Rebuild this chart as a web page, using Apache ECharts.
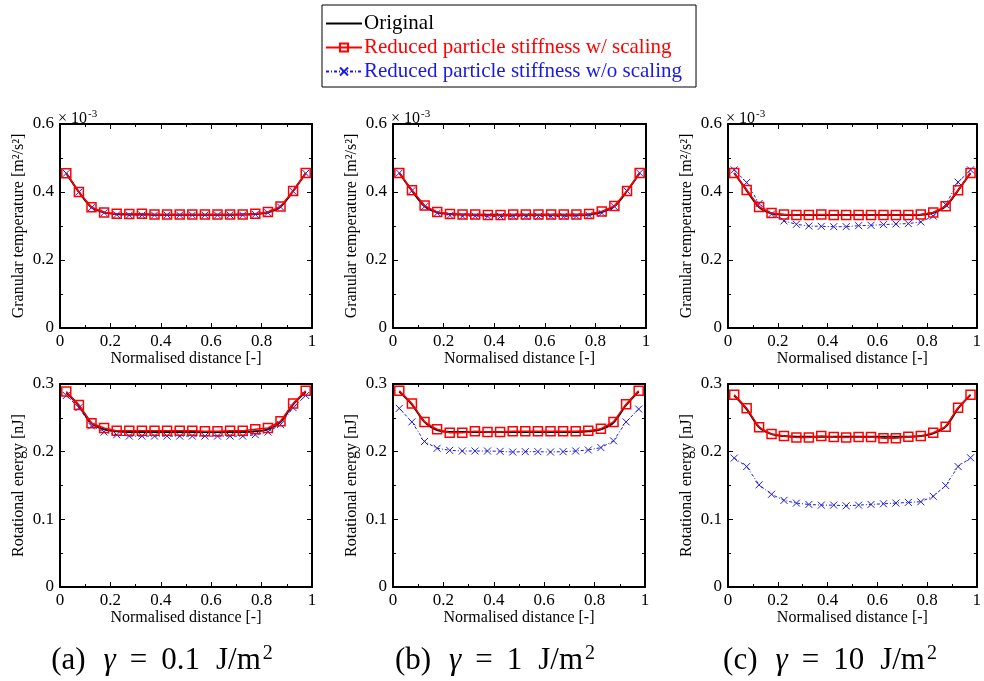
<!DOCTYPE html>
<html>
<head>
<meta charset="utf-8">
<script src="https://cdn.jsdelivr.net/npm/echarts@6/dist/echarts.min.js"></script>
<style>html,body{margin:0;padding:0;background:#fff;}#c{width:984px;height:681px;}</style>
</head>
<body>
<div id="c"></div>
<script>
// ---------- DATA ----------
const xPos = [0.025,0.075,0.125,0.175,0.225,0.275,0.325,0.375,0.425,0.475,0.525,0.575,0.625,0.675,0.725,0.775,0.825,0.875,0.925,0.975];
const seriesNames = ['Original','Reduced particle stiffness w/ scaling','Reduced particle stiffness w/o scaling'];
const captions = ['(a)', '(b)', '(c)'];
const captionValues = ['0.1', '1', '10'];
const xTicks = [0,0.2,0.4,0.6,0.8,1];
const tempTicks = [0,0.2,0.4,0.6];
const rotTicks = [0,0.1,0.2,0.3];

// Granular temperature (x 1e-3 m^2/s^2)
const tempOrigA    = [0.455,0.400,0.355,0.340,0.335,0.334,0.334,0.333,0.333,0.333,0.333,0.333,0.333,0.333,0.334,0.335,0.340,0.357,0.403,0.455];
const tempScaledA  = [0.455,0.400,0.355,0.340,0.336,0.335,0.336,0.334,0.334,0.334,0.334,0.334,0.334,0.334,0.334,0.336,0.341,0.357,0.403,0.456];
const tempNoScaleA = [0.455,0.400,0.354,0.339,0.333,0.332,0.332,0.332,0.332,0.332,0.332,0.332,0.332,0.332,0.332,0.334,0.339,0.356,0.402,0.455];

const tempOrigB    = [0.456,0.404,0.358,0.340,0.335,0.334,0.333,0.333,0.333,0.333,0.333,0.333,0.333,0.333,0.333,0.334,0.341,0.358,0.403,0.456];
const tempScaledB  = [0.456,0.405,0.360,0.341,0.335,0.334,0.334,0.332,0.332,0.334,0.334,0.334,0.334,0.334,0.334,0.335,0.343,0.359,0.403,0.456];
const tempNoScaleB = [0.456,0.404,0.357,0.338,0.331,0.329,0.329,0.328,0.328,0.328,0.328,0.328,0.328,0.328,0.329,0.331,0.338,0.357,0.403,0.456];

const tempOrigC    = [0.456,0.405,0.356,0.337,0.333,0.332,0.332,0.332,0.332,0.332,0.332,0.332,0.332,0.332,0.332,0.333,0.339,0.358,0.405,0.456];
const tempScaledC  = [0.456,0.406,0.356,0.338,0.334,0.332,0.332,0.334,0.332,0.332,0.332,0.332,0.332,0.332,0.332,0.334,0.340,0.358,0.405,0.456];
const tempNoScaleC = [0.465,0.428,0.366,0.335,0.315,0.305,0.300,0.299,0.298,0.298,0.301,0.302,0.304,0.306,0.307,0.312,0.329,0.363,0.429,0.465];

// Rotational energy (nJ)
const rotOrigA     = [0.287,0.268,0.242,0.233,0.230,0.229,0.229,0.229,0.229,0.229,0.229,0.229,0.229,0.229,0.229,0.230,0.233,0.244,0.270,0.288];
const rotScaledA   = [0.289,0.269,0.242,0.235,0.231,0.231,0.231,0.231,0.231,0.231,0.231,0.230,0.230,0.231,0.231,0.233,0.235,0.245,0.271,0.290];
const rotNoScaleA  = [0.283,0.265,0.238,0.229,0.225,0.223,0.223,0.223,0.223,0.223,0.223,0.223,0.223,0.223,0.223,0.225,0.229,0.240,0.265,0.283];

const rotOrigB     = [0.289,0.270,0.244,0.232,0.229,0.229,0.229,0.229,0.229,0.229,0.229,0.229,0.229,0.229,0.229,0.230,0.233,0.243,0.269,0.289];
const rotScaledB   = [0.290,0.271,0.244,0.233,0.228,0.228,0.230,0.229,0.229,0.230,0.230,0.230,0.230,0.230,0.230,0.231,0.234,0.244,0.270,0.290];
const rotNoScaleB  = [0.264,0.244,0.215,0.205,0.202,0.201,0.201,0.201,0.2005,0.1995,0.200,0.200,0.1995,0.200,0.201,0.2025,0.206,0.216,0.244,0.263];

const rotOrigC     = [0.283,0.263,0.236,0.226,0.223,0.222,0.222,0.222,0.222,0.222,0.222,0.222,0.222,0.222,0.222,0.223,0.227,0.237,0.264,0.284];
const rotScaledC   = [0.284,0.264,0.236,0.226,0.223,0.221,0.221,0.223,0.2215,0.221,0.2215,0.2215,0.220,0.220,0.222,0.223,0.228,0.237,0.265,0.284];
const rotNoScaleC  = [0.1905,0.178,0.151,0.137,0.128,0.124,0.122,0.121,0.121,0.120,0.121,0.122,0.123,0.124,0.125,0.126,0.134,0.150,0.178,0.191];

// ---------- CHART ----------
const FONT = 'Liberation Serif';
const panels = [
  {grid:{left:60, top:124, width:252, height:204}, data:[tempOrigA,tempScaledA,tempNoScaleA], temp:true},
  {grid:{left:393,top:124, width:253, height:204}, data:[tempOrigB,tempScaledB,tempNoScaleB], temp:true},
  {grid:{left:728,top:124, width:252, height:204}, data:[tempOrigC,tempScaledC,tempNoScaleC], temp:true},
  {grid:{left:60, top:384, width:252, height:203}, data:[rotOrigA,rotScaledA,rotNoScaleA], temp:false},
  {grid:{left:393,top:384, width:252, height:203}, data:[rotOrigB,rotScaledB,rotNoScaleB], temp:false},
  {grid:{left:728,top:384, width:252, height:203}, data:[rotOrigC,rotScaledC,rotNoScaleC], temp:false}
];

const RED = '#ff0000', BLUE = '#1a1ae6';
const crossPath = 'path://M0,0L10,10M10,0L0,10';
const axisLine = {show:true, onZero:false, lineStyle:{color:'#000', width:2}};
const tick = {show:true, inside:true, length:5, lineStyle:{color:'#000', width:1}};
const minor = {show:true, splitNumber:2, length:3, lineStyle:{color:'#000', width:1}};
const lab = {color:'#000', fontFamily:FONT, fontSize:17};

const grids=[], xAxes=[], yAxes=[], series=[];
panels.forEach((p,i)=>{
  grids.push(Object.assign({containLabel:false}, p.grid));
  const yMax = p.temp ? tempTicks[tempTicks.length-1] : rotTicks[rotTicks.length-1];
  const yInt = p.temp ? tempTicks[1]-tempTicks[0] : rotTicks[1]-rotTicks[0];
  xAxes.push({type:'value', gridIndex:i, position:'bottom', min:xTicks[0], max:xTicks[xTicks.length-1], interval:xTicks[1]-xTicks[0],
    axisLine, axisTick:tick, minorTick:minor, splitLine:{show:false},
    axisLabel:Object.assign({margin:5}, lab),
    name:'Normalised distance [-]', nameLocation:'middle', nameGap:22,
    nameTextStyle:{color:'#000', fontFamily:FONT, fontSize:16}});
  xAxes.push({type:'value', gridIndex:i, position:'top', min:xTicks[0], max:xTicks[xTicks.length-1], interval:xTicks[1]-xTicks[0],
    axisLine, axisTick:tick, minorTick:minor, splitLine:{show:false}, axisLabel:{show:false}});
  yAxes.push({type:'value', gridIndex:i, position:'left', min:0, max:yMax, interval:yInt,
    axisLine, axisTick:tick, minorTick:minor, splitLine:{show:false},
    axisLabel:Object.assign({margin:6}, lab),
    name: p.temp ? 'Granular temperature [m²/s²]' : 'Rotational energy [nJ]',
    nameLocation:'middle', nameRotate:90, nameGap:33,
    nameTextStyle:{color:'#000', fontFamily:FONT, fontSize:16}});
  yAxes.push({type:'value', gridIndex:i, position:'right', min:0, max:yMax, interval:yInt,
    axisLine, axisTick:tick, minorTick:minor, splitLine:{show:false}, axisLabel:{show:false}});
  const mk = arr => xPos.map((x,k)=>[x, arr[k]]);
  series.push({name:seriesNames[0], type:'line', xAxisIndex:2*i, yAxisIndex:2*i, data:mk(p.data[0]),
    showSymbol:false, symbol:'none', smooth:0.3, lineStyle:{color:'#000', width:2}, itemStyle:{color:'#000'}, z:2, animation:false});
  series.push({name:seriesNames[2], type:'line', xAxisIndex:2*i, yAxisIndex:2*i, data:mk(p.data[2]),
    symbol:crossPath, symbolSize:7, lineStyle:{color:BLUE, width:1, type:[3,2,1,2]},
    itemStyle:{color:BLUE, borderColor:BLUE, borderWidth:1}, z:3, animation:false});
  series.push({name:seriesNames[1], type:'line', xAxisIndex:2*i, yAxisIndex:2*i, data:mk(p.data[1]),
    symbol:'rect', symbolSize:9, lineStyle:{color:RED, width:1.5},
    itemStyle:{color:'rgba(255,255,255,0)', borderColor:RED, borderWidth:1.5}, z:4, animation:false});
});

const titles = [];
[0,1,2].forEach(i=>{
  const g = panels[i].grid;
  titles.push({text:'{a|× 10}{s|-3}', left:g.left-7, top:g.top-20,
    textStyle:{fontWeight:'normal', rich:{a:{fontFamily:FONT, fontSize:16, fontWeight:'normal', color:'#000'},
      s:{fontFamily:FONT, fontSize:11, fontWeight:'normal', color:'#000', verticalAlign:'bottom', padding:[0,0,8,1]}}}});
});

const graphics = [];
[0,1,2].forEach(i=>{
  const g = panels[i+3].grid;
  graphics.push({type:'text', x:g.left + g.width/2 - 24, y:661,
    style:{text:'{n|'+captions[i]+'}{i|γ}{e|=}{n|'+captionValues[i]+'}{j|J/m}{s|2}', textAlign:'center', textVerticalAlign:'middle',
      rich:{n:{fontFamily:FONT, fontSize:31, color:'#000'},
            i:{fontFamily:FONT, fontSize:31, fontStyle:'italic', color:'#000', padding:[0,0,0,18]},
            e:{fontFamily:FONT, fontSize:31, color:'#000', padding:[0,14,0,14]},
            j:{fontFamily:FONT, fontSize:31, color:'#000', padding:[0,0,0,16]},
            s:{fontFamily:FONT, fontSize:20, color:'#000', verticalAlign:'bottom', padding:[0,0,15,2]}}}});
});

const chart = echarts.init(document.getElementById('c'), null, {renderer:'canvas'});
chart.setOption({
  animation:false,
  backgroundColor:'#fff',
  title: titles,
  legend:{
    orient:'vertical', left:322, top:5, padding:[8,14,5,3], itemGap:3,
    borderColor:'#000', borderWidth:1, itemWidth:36, itemHeight:10,
    textStyle:{fontFamily:FONT, fontSize:21, padding:[0,0,0,-3]},
    data:[
      {name:seriesNames[0], textStyle:{color:'#000'}, itemStyle:{opacity:0}},
      {name:seriesNames[1], textStyle:{color:RED}},
      {name:seriesNames[2], textStyle:{color:BLUE}}
    ]
  },
  grid:grids, xAxis:xAxes, yAxis:yAxes, series:series, graphic:graphics
});
</script>
</body>
</html>
